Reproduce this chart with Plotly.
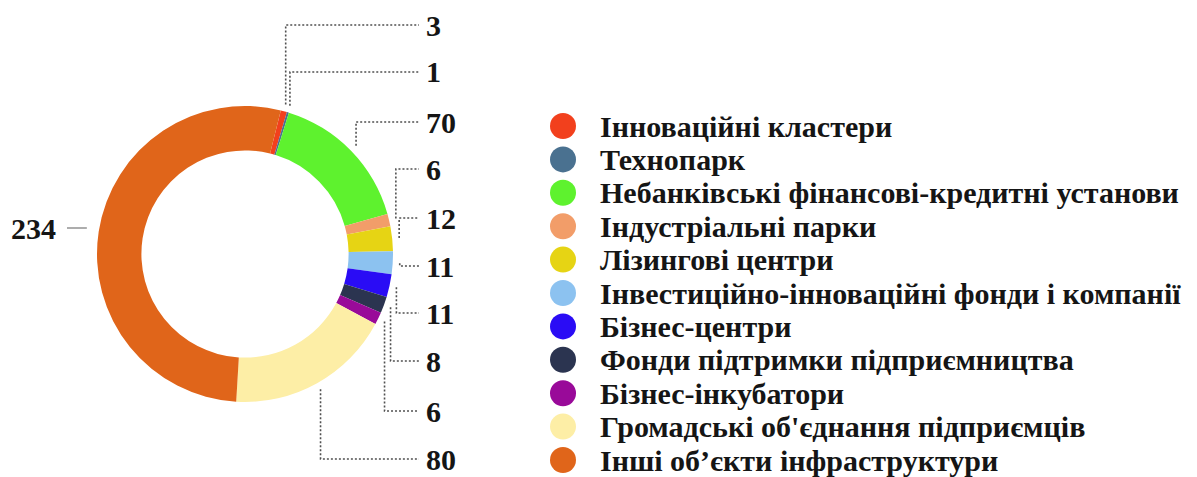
import math
import plotly.graph_objects as go

# ---------------- data ----------------
categories = [
    "Інноваційні кластери",
    "Технопарк",
    "Небанківські фінансові-кредитні установи",
    "Індустріальні парки",
    "Лізингові центри",
    "Інвестиційно-інноваційні фонди і компанії",
    "Бізнес-центри",
    "Фонди підтримки підприємництва",
    "Бізнес-інкубатори",
    "Громадські об'єднання підприємців",
    "Інші об’єкти інфраструктури",
]
values = [3, 1, 70, 6, 12, 11, 11, 8, 6, 80, 234]
colors = [
    "#f2401d", "#4a7190", "#5ef22e", "#f29d69", "#e6d414", "#8cc2f0",
    "#2a0cf5", "#2b3450", "#990a99", "#fdeea6", "#e0651a",
]

# ---------------- layout constants (pixels in the 1197x477 page) ----------------
W, H = 1197, 477
CX, CY, R = 245, 254, 148          # donut centre and outer radius
HOLE = 0.70
ROTATION = 14                      # first slice starts 14 deg clockwise from 12 o'clock
LEAD_R = 155                       # radius where leader lines start
# vertical position of each value label (pixels from top); last one sits on the left
label_y = [25, 72, 122, 169, 218, 266, 313, 361, 411, 459, 228]
label_side = ["right"] * 10 + ["left"]
RIGHT_LINE_END, RIGHT_TEXT_X = 419, 424
LEFT_LINE_END, LEFT_TEXT_X = 67, 58
LEGEND_X, LEGEND_TEXT_X = 563, 598
LEGEND_TOP, LEGEND_STEP = 126, 33.4

FONT = "Liberation Serif, Times New Roman, serif"
TXT = "#151515"
NUM_SIZE = 30
LEG_SIZE = 30


def px(x):
    return x / W


def py(y):
    return 1 - y / H


fig = go.Figure()

fig.add_trace(go.Pie(
    labels=categories,
    values=values,
    sort=False,
    direction="clockwise",
    rotation=ROTATION,
    hole=HOLE,
    textinfo="none",
    marker=dict(colors=colors, line=dict(width=0)),
    domain=dict(x=[px(CX - R), px(CX + R)], y=[py(CY + R), py(CY - R)]),
    showlegend=False,
))

# ---------------- value labels with leader lines ----------------
total = sum(values)
shapes = []
annotations = []
cum = 0
for v, ly, side in zip(values, label_y, label_side):
    mid = ROTATION + (cum + v / 2) / total * 360
    cum += v
    a = math.radians(mid)
    if side == "right":
        sx = CX + LEAD_R * math.sin(a)
        sy = CY - LEAD_R * math.cos(a)
        path = f"M {px(sx)},{py(sy)} L {px(sx)},{py(ly)} L {px(RIGHT_LINE_END)},{py(ly)}"
        shapes.append(dict(type="path", xref="paper", yref="paper", path=path,
                           line=dict(color="#505050", width=1.6, dash="2px,2px")))
        annotations.append(dict(x=px(RIGHT_TEXT_X), y=py(ly), xref="paper", yref="paper",
                                text=f"<b>{v}</b>", showarrow=False, xanchor="left",
                                yanchor="middle", font=dict(family=FONT, size=NUM_SIZE, color=TXT)))
    else:
        sx = CX + (R + 12) * math.sin(a)
        shapes.append(dict(type="line", xref="paper", yref="paper",
                           x0=px(sx), y0=py(ly), x1=px(LEFT_LINE_END), y1=py(ly),
                           line=dict(color="#777777", width=1.2)))
        annotations.append(dict(x=px(LEFT_TEXT_X), y=py(ly), xref="paper", yref="paper",
                                text=f"<b>{v}</b>", showarrow=False, xanchor="right",
                                yanchor="middle", font=dict(family=FONT, size=NUM_SIZE, color=TXT)))

# ---------------- legend (circle markers + bold serif text) ----------------
idx = list(range(len(categories)))
fig.add_trace(go.Scatter(
    x=[0] * len(categories), y=idx, mode="markers",
    marker=dict(size=26, color=colors, line=dict(width=0)),
    hovertext=categories, hoverinfo="text", showlegend=False,
    xaxis="x", yaxis="y",
))
for i, name in enumerate(categories):
    annotations.append(dict(x=LEGEND_TEXT_X - LEGEND_X, y=i, xref="x", yref="y",
                            text=f"<b>{name}</b>", showarrow=False, xanchor="left",
                            yanchor="middle", font=dict(family=FONT, size=LEG_SIZE, color=TXT)))

fig.update_layout(
    width=W, height=H,
    margin=dict(l=0, r=0, t=0, b=0),
    paper_bgcolor="white", plot_bgcolor="rgba(0,0,0,0)",
    xaxis=dict(range=[-LEGEND_X, W - LEGEND_X], domain=[0, 1], visible=False, fixedrange=True),
    yaxis=dict(range=[(H - LEGEND_TOP) / LEGEND_STEP, -LEGEND_TOP / LEGEND_STEP],
               domain=[0, 1], visible=False, fixedrange=True),
    shapes=shapes,
    annotations=annotations,
    showlegend=False,
)

fig.write_html("out.html", config={"displayModeBar": False},
               post_script="document.body.style.margin='0';")
